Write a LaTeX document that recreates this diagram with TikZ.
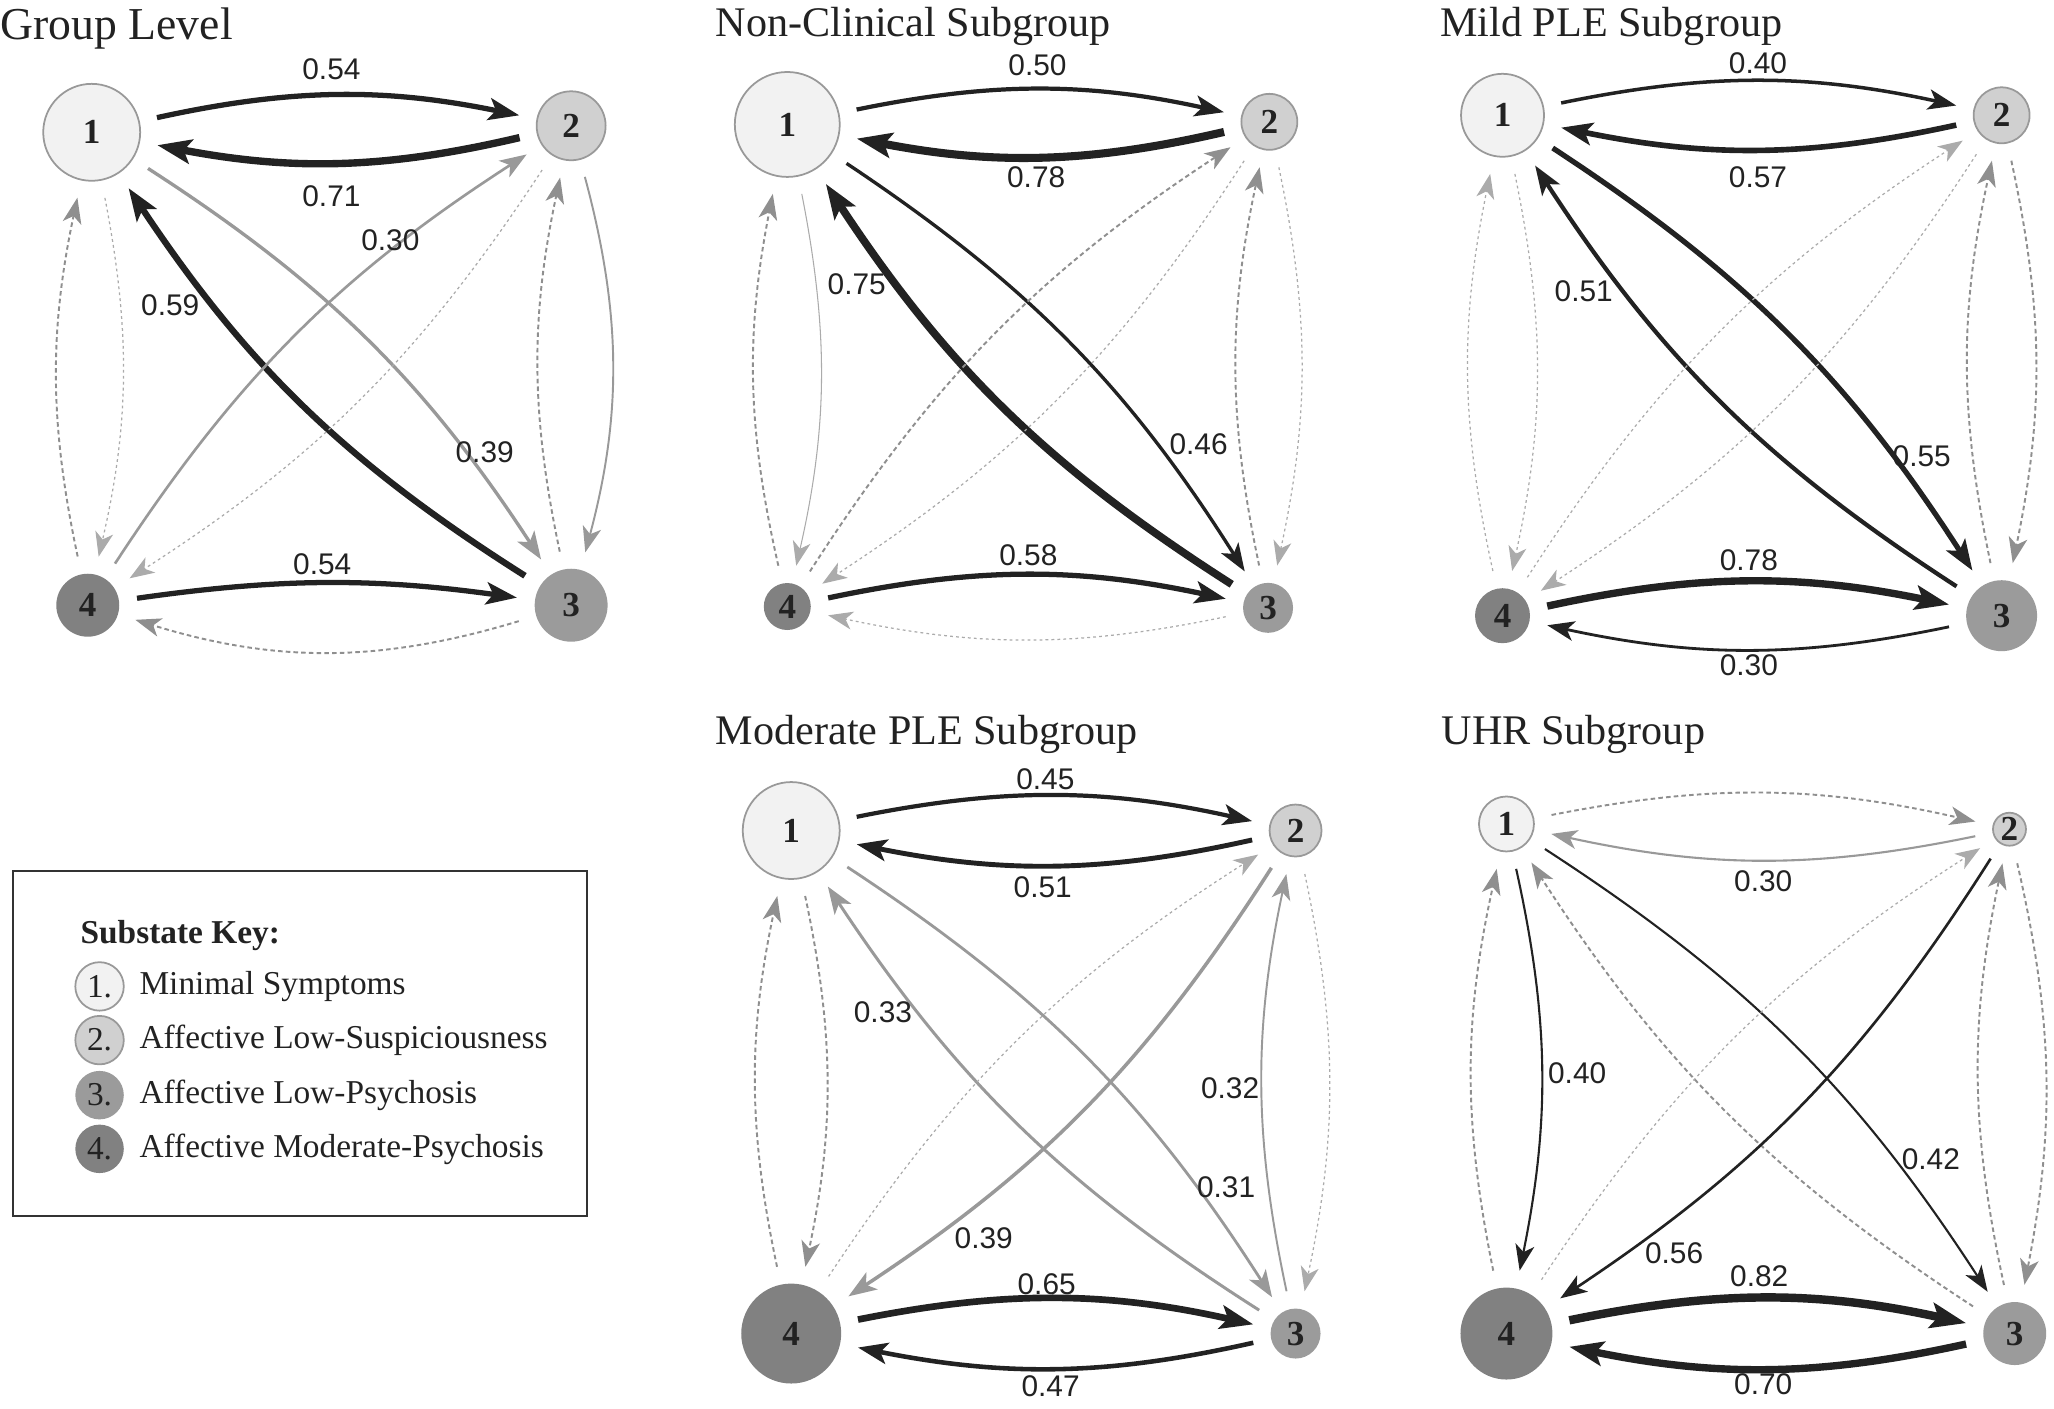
\documentclass[tikz,border=0pt]{standalone}
\usepackage{fontspec}
\setmainfont{Liberation Serif}
\newfontfamily\arial{Liberation Sans}
\usetikzlibrary{arrows.meta}

\definecolor{knoten1}{HTML}{F2F2F2}
\definecolor{knoten2}{HTML}{D0D0D0}
\definecolor{knoten3}{HTML}{9B9B9B}
\definecolor{knoten4}{HTML}{818181}
\definecolor{rand}{HTML}{999999}
\definecolor{schwarz}{HTML}{222222}
\definecolor{grau}{HTML}{999999}
\definecolor{grau2}{HTML}{8F8F8F}
\definecolor{grau3}{HTML}{ABABAB}

\begin{document}
\begin{tikzpicture}[x=0.0131cm, y=-0.0131cm,
	zust/.style={circle, inner sep=0pt, font=\fontsize{10}{10}\selectfont\bfseries, text=schwarz},
	z1/.style={zust, fill=knoten1, draw=rand, line width=0.5pt},
	z2/.style={zust, fill=knoten2, draw=rand, line width=0.5pt},
	z3/.style={zust, fill=knoten3},
	z4/.style={zust, fill=knoten4},
	pf/.style={-{Stealth[length=6.5pt 1.5, width=4.8pt 1, inset=2pt]}, bend left=12, shorten <=5pt, shorten >=5pt},
	stark/.style={pf, draw=schwarz},
	mittel/.style={pf, draw=grau},
	gestr/.style={pf, draw=grau2, line width=0.55pt, dash pattern=on 1.3pt off 0.9pt},
	gepunkt/.style={pf, draw=grau3, line width=0.35pt, dash pattern=on 0.8pt off 0.9pt},
	zahl/.style={font=\arial\fontsize{8.5}{9}\selectfont, text=schwarz, inner sep=0pt},
	titel/.style={anchor=base west, inner sep=0pt, font=\fontsize{12}{14}\selectfont, text=schwarz},
	leg/.style={anchor=west, inner sep=0pt, font=\fontsize{9.5}{11}\selectfont, text=schwarz}]
	\useasboundingbox (0,0) rectangle (1568,1075); % Rand um Grafik
	
	% Group Level
	\node[titel, font=\fontsize{13}{15}\selectfont] (tA) at (0,30) {Group Level};
	\node[z1, minimum size=0.97cm] (a1) at (70,101) {1};
	\node[z2, minimum size=0.69cm] (a2) at (436,96) {2};
	\node[z3, minimum size=0.73cm] (a3) at (436,462) {3};
	\node[z4, minimum size=0.63cm] (a4) at (67,462) {4};
	\draw[stark, line width=1.5pt] (a1) to (a2);
	\draw[stark, line width=2.1pt] (a2) to (a1);
	\draw[stark, line width=1.5pt, bend left=8] (a4) to (a3);
	\draw[gestr, bend left=17] (a3) to (a4);
	\draw[stark, line width=1.8pt] (a3) to (a1);
	\draw[mittel, line width=0.95pt] (a1) to (a3);
	\draw[mittel, line width=0.75pt] (a4) to (a2);
	\draw[gepunkt] (a2) to (a4);
	\draw[gestr] (a4) to (a1);
	\draw[gepunkt] (a1) to (a4);
	\draw[mittel, line width=0.55pt, bend left=15] (a2) to (a3);
	\draw[gestr] (a3) to (a2);
	\node[zahl] (la12) at (253,53) {0.54};
	\node[zahl] (la21) at (253,150) {0.71};
	\node[zahl] (la42) at (298,183) {0.30};
	\node[zahl] (la31) at (130,233) {0.59};
	\node[zahl] (la13) at (370,345) {0.39};
	\node[zahl] (la43) at (246,431) {0.54};
	
	% Non-Clinical
	\node[titel] (tB) at (546,28) {Non-Clinical Subgroup};
	\node[z1, minimum size=1.05cm] (b1) at (601,95) {1};
	\node[z2, minimum size=0.56cm] (b2) at (969,93) {2};
	\node[z3, minimum size=0.50cm] (b3) at (968,464) {3};
	\node[z4, minimum size=0.47cm] (b4) at (601,463) {4};
	\draw[stark, line width=1.2pt] (b1) to (b2);
	\draw[stark, line width=2.3pt] (b2) to (b1);
	\draw[stark, line width=1.5pt] (b4) to (b3);
	\draw[gepunkt] (b3) to (b4);
	\draw[stark, line width=2.2pt] (b3) to (b1);
	\draw[stark, line width=0.95pt] (b1) to (b3);
	\draw[gestr] (b4) to (b2);
	\draw[gepunkt] (b2) to (b4);
	\draw[gestr] (b4) to (b1);
	\draw[mittel, draw=grau3, line width=0.3pt] (b1) to (b4);
	\draw[gestr] (b3) to (b2);
	\draw[gepunkt] (b2) to (b3);
	\node[zahl] (lb12) at (792,50) {0.50};
	\node[zahl] (lb21) at (791,135) {0.78};
	\node[zahl] (lb31) at (654,217) {0.75};
	\node[zahl] (lb13) at (915,339) {0.46};
	\node[zahl] (lb43) at (785,424) {0.58};
	
	% Mild PLE
	\node[titel] (tC) at (1099,28) {Mild PLE Subgroup};
	\node[z1, minimum size=0.83cm] (c1) at (1147,88) {1};
	\node[z2, minimum size=0.56cm] (c2) at (1528,88) {2};
	\node[z3, minimum size=0.71cm] (c3) at (1528,470) {3};
	\node[z4, minimum size=0.55cm] (c4) at (1147,470) {4};
	\draw[stark, line width=1.0pt] (c1) to (c2);
	\draw[stark, line width=1.6pt] (c2) to (c1);
	\draw[stark, line width=2.1pt] (c4) to (c3);
	\draw[stark, line width=0.8pt] (c3) to (c4);
	\draw[stark, line width=1.2pt] (c3) to (c1);
	\draw[stark, line width=1.5pt] (c1) to (c3);
	\draw[gepunkt] (c4) to (c2);
	\draw[gepunkt] (c2) to (c4);
	\draw[gepunkt] (c4) to (c1);
	\draw[gepunkt] (c1) to (c4);
	\draw[gestr] (c3) to (c2);
	\draw[gestr] (c2) to (c3);
	\node[zahl] (lc12) at (1342,48) {0.40};
	\node[zahl] (lc21) at (1342,135) {0.57};
	\node[zahl] (lc31) at (1209,222) {0.51};
	\node[zahl] (lc13) at (1467,348) {0.55};
	\node[zahl] (lc43) at (1335,428) {0.78};
	\node[zahl] (lc34) at (1335,508) {0.30};
	
	% Moderate PLE
	\node[titel] (tD) at (546,568) {Moderate PLE Subgroup};
	\node[z1, minimum size=0.97cm] (d1) at (604,634) {1};
	\node[z2, minimum size=0.52cm] (d2) at (989,634) {2};
	\node[z3, minimum size=0.50cm] (d3) at (989,1018) {3};
	\node[z4, minimum size=1.0cm] (d4) at (604,1018) {4};
	\draw[stark, line width=1.2pt] (d1) to (d2);
	\draw[stark, line width=1.4pt] (d2) to (d1);
	\draw[stark, line width=1.9pt] (d4) to (d3);
	\draw[stark, line width=1.3pt] (d3) to (d4);
	\draw[mittel, line width=0.85pt] (d3) to (d1);
	\draw[mittel, line width=0.8pt] (d1) to (d3);
	\draw[mittel, line width=1.0pt] (d2) to (d4);
	\draw[gepunkt] (d4) to (d2);
	\draw[mittel, line width=0.55pt] (d3) to (d2);
	\draw[gepunkt] (d2) to (d3);
	\draw[gestr] (d4) to (d1);
	\draw[gestr] (d1) to (d4);
	\node[zahl] (ld12) at (798,595) {0.45};
	\node[zahl] (ld21) at (796,677) {0.51};
	\node[zahl] (ld31) at (674,773) {0.33};
	\node[zahl] (ld32) at (939,831) {0.32};
	\node[zahl] (ld13) at (936,906) {0.31};
	\node[zahl] (ld24) at (751,945) {0.39};
	\node[zahl] (ld43) at (799,980) {0.65};
	\node[zahl] (ld34) at (802,1058) {0.47};
	
	% UHR
	\node[titel] (tE) at (1100,568) {UHR Subgroup};
	\node[z1, minimum size=0.55cm] (e1) at (1150,629) {1};
	\node[z2, minimum size=0.33cm] (e2) at (1534,633) {2};
	\node[z3, minimum size=0.63cm] (e3) at (1538,1018) {3};
	\node[z4, minimum size=0.92cm] (e4) at (1150,1018) {4};
	\draw[gestr] (e1) to (e2);
	\draw[mittel, line width=0.6pt] (e2) to (e1);
	\draw[stark, line width=0.6pt] (e1) to (e4);
	\draw[gestr] (e4) to (e1);
	\draw[stark, line width=0.6pt] (e1) to (e3);
	\draw[gestr] (e3) to (e1);
	\draw[stark, line width=0.75pt] (e2) to (e4);
	\draw[gepunkt] (e4) to (e2);
	\draw[stark, line width=2.4pt] (e4) to (e3);
	\draw[stark, line width=2.1pt] (e3) to (e4);
	\draw[gestr] (e3) to (e2);
	\draw[gestr] (e2) to (e3);
	\node[zahl] (le21) at (1346,673) {0.30};
	\node[zahl] (le14) at (1204,819) {0.40};
	\node[zahl] (le13) at (1474,885) {0.42};
	\node[zahl] (le24) at (1278,957) {0.56};
	\node[zahl] (le43) at (1343,974) {0.82};
	\node[zahl] (le34) at (1346,1057) {0.70};
	
	% Legende
	\draw[line width=0.6pt, draw=black!80] (10,665) rectangle (448,928);
	\node[leg, font=\fontsize{9.5}{11}\selectfont\bfseries] (key) at (61,714) {Substate Key:};
	\node[z1, minimum size=0.485cm, font=\fontsize{9.5}{11}\selectfont] (k1) at (76,753) {1.};
	\node[z2, minimum size=0.485cm, font=\fontsize{9.5}{11}\selectfont] (k2) at (76,794) {2.};
	\node[z3, minimum size=0.485cm, font=\fontsize{9.5}{11}\selectfont] (k3) at (76,836) {3.};
	\node[z4, minimum size=0.485cm, font=\fontsize{9.5}{11}\selectfont] (k4) at (76,877) {4.};
	\node[leg] (kt1) at (106,753) {Minimal Symptoms};
	\node[leg] (kt2) at (106,794) {Affective Low-Suspiciousness};
	\node[leg] (kt3) at (106,836) {Affective Low-Psychosis};
	\node[leg] (kt4) at (106,877) {Affective Moderate-Psychosis};
\end{tikzpicture}
\end{document}
